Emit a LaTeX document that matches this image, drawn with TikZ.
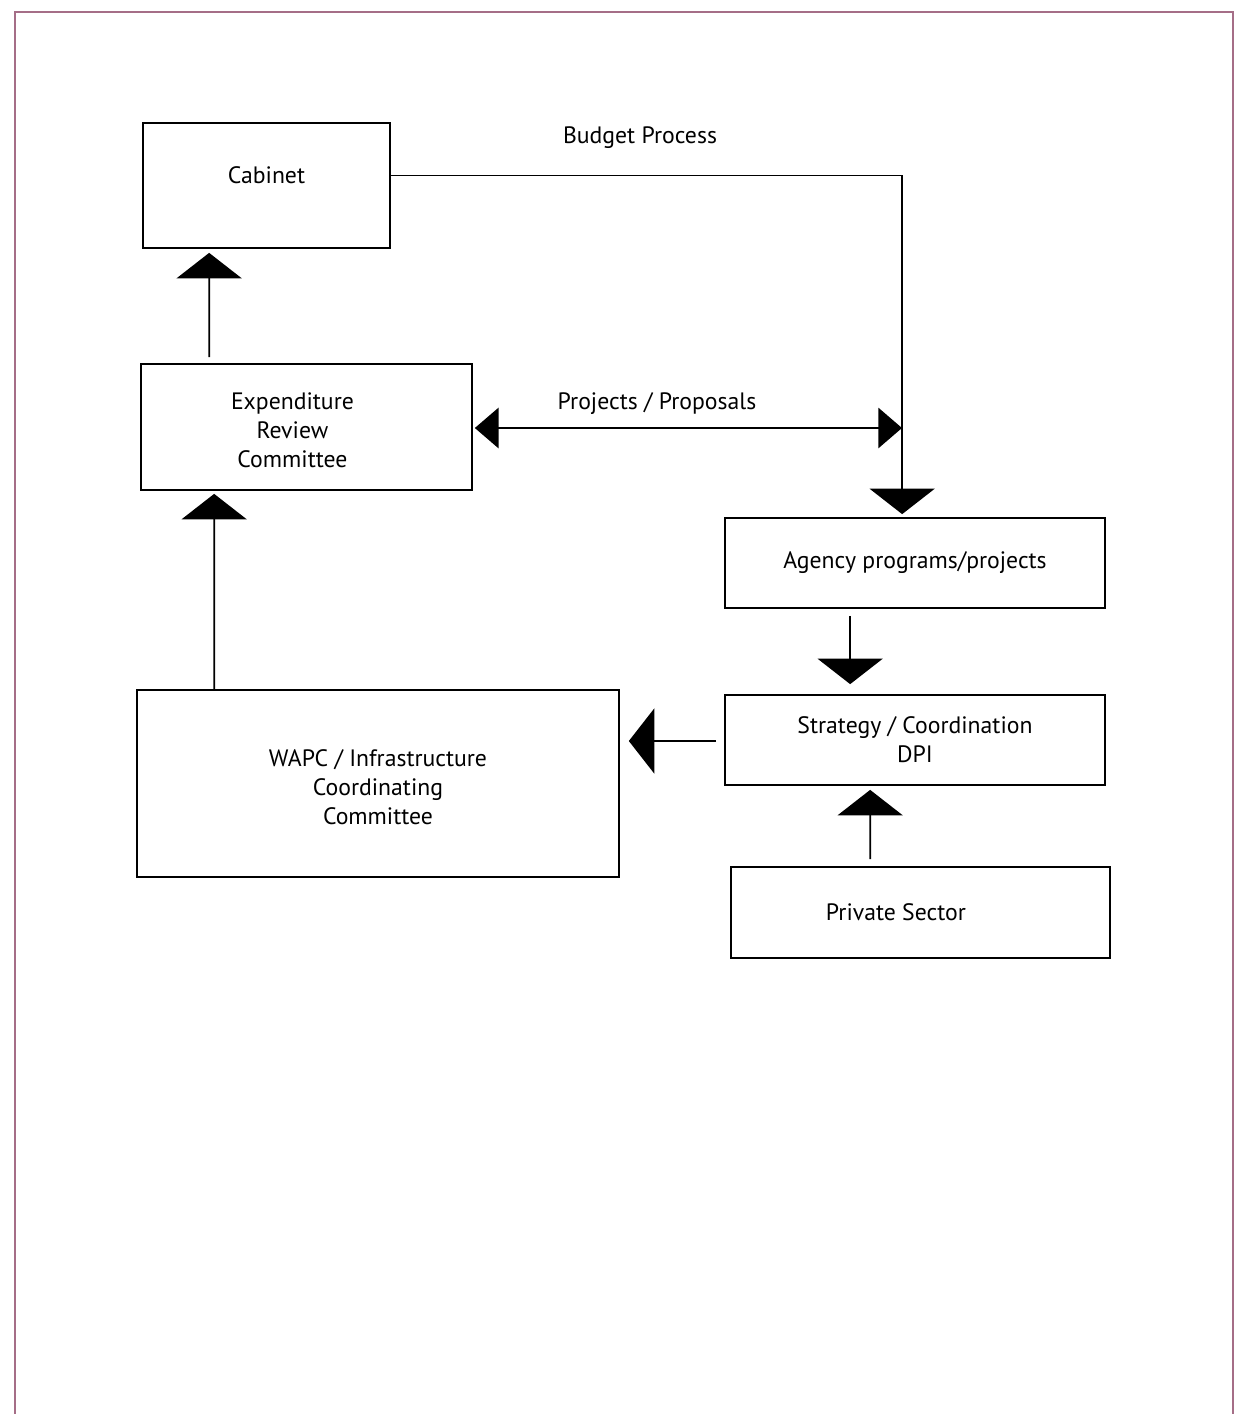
\documentclass[tikz,border=0pt]{standalone}
\usepackage{fontspec}
\setmainfont{PT Sans}
\usetikzlibrary{arrows.meta,calc}
\definecolor{framepink}{RGB}{165,110,135}
\begin{document}
\begin{tikzpicture}[x=0.02cm, y=-0.02cm,
        box/.style={draw, line width=1pt, align=center, font=\fontsize{13.5}{16.5}\selectfont},
        bigtip/.style={line width=1pt, -{Triangle[width=37pt,length=14.5pt]}},
        duotip/.style={line width=1pt, {Triangle[width=23pt,length=13.5pt]}-{Triangle[width=23pt,length=13.5pt]}},
        lbl/.style={font=\fontsize{13.5}{16.5}\selectfont}]
        \useasboundingbox (0,0) rectangle (1236,1414);
        % page frame
        \draw[framepink, line width=1.3pt] (15,1414) -- (15,12) -- (1233,12) -- (1233,1414);
        % boxes
        \node[box, minimum width=4.94cm, minimum height=2.5cm, text depth=12pt] (cabinet) at (266.5,185.5) {Cabinet};
        \node[box, minimum width=6.62cm, minimum height=2.52cm] (erc) at (306.5,427)
            {\raisebox{-3.4pt}[\height][\depth]{\begin{tabular}{@{}c@{}}Expenditure\\Review\\Committee\end{tabular}}\hspace*{16pt}};
        \node[box, minimum width=7.6cm, minimum height=1.8cm] (agency) at (915,563) {Agency programs/projects};
        \node[box, minimum width=7.6cm, minimum height=1.8cm] (strategy) at (915,740) {Strategy / Coordination\\DPI};
        \node[box, minimum width=9.64cm, minimum height=3.74cm] (wapc) at (378,783.5)
            {\raisebox{-3.4pt}[\height][\depth]{\begin{tabular}{@{}c@{}}WAPC / Infrastructure\\Coordinating\\Committee\end{tabular}}};
        \node[box, minimum width=7.58cm, minimum height=1.82cm] (private) at (920.5,912.5) {Private Sector\hspace*{28pt}};
        % labels
        \node[lbl] (budget) at (640,138) {Budget Process};
        \node[lbl] (proposals) at (657,404) {Projects / Proposals};
        \coordinate (pp) at (902,428);
        % connectors
        \draw[bigtip] ($(erc.north west)+(69,-6)$) -- ($(cabinet.south west)+(67,4)$);
        \draw[bigtip] ($(wapc.north west)+(78,0)$) -- ($(erc.south west)+(74,3)$);
        \draw[bigtip] ($(cabinet.east)+(0,-10)$) -| ($(agency.north west)+(178,-3)$);
        \draw[duotip] ($(erc.east)+(2,1)$) -- (pp);
        \draw[bigtip] ($(agency.south west)+(126,7)$) -- ($(strategy.north west)+(126,-10)$);
        \draw[bigtip] ($(strategy.west)+(-8,1)$) -- ($(wapc.east)+(9,-42.5)$);
        \draw[bigtip] ($(private.north west)+(140,-7)$) -- ($(strategy.south west)+(146,4)$);
\end{tikzpicture}
\end{document}
